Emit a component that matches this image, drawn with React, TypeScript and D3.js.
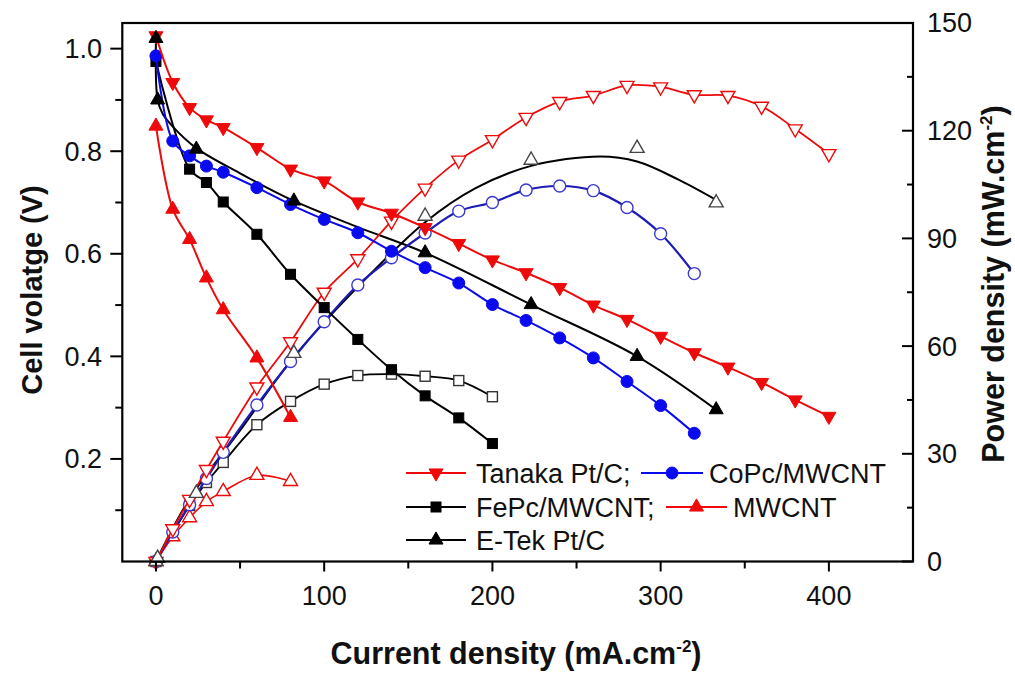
import React from 'react';
import * as d3 from 'd3';

// ---------------- data ----------------
const tanakaI = [0, 10, 20, 30, 40, 60, 80, 100, 120, 140, 160, 180, 200, 220, 240, 260, 280, 300, 320, 340, 360, 380, 400];
const tanakaV = [1.025, 0.934, 0.885, 0.861, 0.846, 0.807, 0.765, 0.742, 0.701, 0.679, 0.651, 0.620, 0.588, 0.563, 0.534, 0.500, 0.472, 0.439, 0.407, 0.379, 0.349, 0.315, 0.283];
const tanakaP = [0, 9.1, 17.3, 25.6, 33.5, 48.6, 61.2, 75.0, 84.3, 94.8, 104.0, 111.8, 117.5, 123.7, 128.1, 129.8, 132.6, 132.2, 130.0, 129.8, 126.8, 120.5, 113.6];

const mwcntI = [0, 10, 20, 30, 40, 60, 80];
const mwcntV = [0.849, 0.687, 0.628, 0.553, 0.491, 0.397, 0.281];
const mwcntP = [0, 6.9, 12.2, 16.7, 19.5, 24.0, 22.3];

const fepcI = [0, 20, 30, 40, 60, 80, 100, 120, 140, 160, 180, 200];
const fepcV = [0.975, 0.765, 0.739, 0.701, 0.638, 0.560, 0.495, 0.433, 0.374, 0.323, 0.280, 0.230];
const fepcP = [0, 15.6, 22.0, 27.6, 38.1, 44.6, 49.4, 51.8, 52.2, 51.6, 50.4, 45.9];

const copcI = [0, 10, 20, 30, 40, 60, 80, 100, 120, 140, 160, 180, 200, 220, 240, 260, 280, 300, 320];
const copcV = [0.986, 0.820, 0.791, 0.771, 0.759, 0.729, 0.696, 0.667, 0.641, 0.605, 0.573, 0.543, 0.501, 0.470, 0.436, 0.397, 0.351, 0.304, 0.250];
const copcP = [0, 8.2, 15.8, 23.1, 30.4, 43.6, 55.7, 66.8, 77.0, 84.6, 91.5, 97.6, 100.0, 103.5, 104.6, 103.3, 98.6, 91.3, 80.2];

const etekI = [0, 1, 24, 82, 160, 223, 286, 333];
const etekV = [1.02, 0.90, 0.804, 0.703, 0.602, 0.501, 0.400, 0.296];
const etekP = [0, 0.9, 19.0, 58.0, 96.2, 111.8, 115.1, 99.9];

// E-Tek fitted curves
const etekFitVI = [0, 1, 4, 10, 24, 50, 82, 120, 160, 223, 286, 333];
const etekFitV = [1.02, 0.90, 0.873, 0.848, 0.806, 0.757, 0.703, 0.652, 0.602, 0.501, 0.400, 0.296];
const etekFitPI = [0, 20, 50, 82, 120, 160, 190, 223, 264, 286, 310, 333];
const etekFitP = [0, 17.5, 36.5, 57, 76.5, 94.5, 104, 110.2, 112.8, 111.4, 106.5, 100.7];

// ticks
const xTicks = [0, 100, 200, 300, 400];
const xMinor = [50, 150, 250, 350];
const vTicks = [0.2, 0.4, 0.6, 0.8, 1.0];
const vMinor = [0.1, 0.3, 0.5, 0.7, 0.9];
const pTicks = [0, 30, 60, 90, 120, 150];
const pMinor = [15, 45, 75, 105, 135];

// ---------------- layout ----------------
const W = 1015, H = 673;
const L = 122.3, R = 913, T = 23, B = 561.5;
const FONT = '"Liberation Sans", Arial, Helvetica, sans-serif';

const RED = '#ee0a0a';
const BLUE = '#0a0af0';
const BLUE_P = '#1c1cb4';
const BLACK = '#000000';

const x = d3.scaleLinear().domain([-20, 450]).range([L, R]);
const yV = d3.scaleLinear().domain([0, 1.05]).range([B, T]);
const yP = d3.scaleLinear().domain([0, 150]).range([B, T]);

type Shape = 'triUp' | 'triDown' | 'square' | 'circle';

function Marker({ cx, cy, shape, color, open, size }: { cx: number; cy: number; shape: Shape; color: string; open?: boolean; size?: number }) {
  const fill = open ? '#ffffff' : color;
  const sw = open ? 1.4 : 1;
  if (shape === 'circle') {
    const r = (size ?? 12) / 2;
    return <circle cx={cx} cy={cy} r={r} fill={fill} stroke={color} strokeWidth={sw} />;
  }
  if (shape === 'square') {
    const s = size ?? 10;
    return <rect x={cx - s / 2} y={cy - s / 2} width={s} height={s} fill={fill} stroke={color} strokeWidth={sw} />;
  }
  const w = size ?? 14;
  const h = w * 0.87;
  const p = shape === 'triUp'
    ? `M${cx},${cy - (2 * h) / 3}L${cx + w / 2},${cy + h / 3}L${cx - w / 2},${cy + h / 3}Z`
    : `M${cx},${cy + (2 * h) / 3}L${cx + w / 2},${cy - h / 3}L${cx - w / 2},${cy - h / 3}Z`;
  return <path d={p} fill={fill} stroke={color} strokeWidth={sw} strokeLinejoin="miter" />;
}

function pairs(xs: number[], ys: number[]): [number, number][] {
  return xs.map((v, i) => [v, ys[i]]);
}

const lineV = d3.line<[number, number]>().x(d => x(d[0])).y(d => yV(d[1])).curve(d3.curveCatmullRom.alpha(0.5));
const lineP = d3.line<[number, number]>().x(d => x(d[0])).y(d => yP(d[1])).curve(d3.curveCatmullRom.alpha(0.5));

type Series = { xs: number[]; ys: number[]; axis: 'V' | 'P'; shape: Shape; color: string; lineColor: string; open: boolean; size: number; lw: number; noLine?: boolean };

const series: Series[] = [
  { xs: fepcI, ys: fepcP, axis: 'P', shape: 'square', color: '#333333', lineColor: BLACK, open: true, size: 10, lw: 1.8 },
  { xs: mwcntI, ys: mwcntP, axis: 'P', shape: 'triUp', color: RED, lineColor: RED, open: true, size: 14, lw: 1.6 },
  { xs: copcI, ys: copcP, axis: 'P', shape: 'circle', color: '#3a3ad0', lineColor: BLUE_P, open: true, size: 12, lw: 2.2 },
  { xs: tanakaI, ys: tanakaP, axis: 'P', shape: 'triDown', color: RED, lineColor: RED, open: true, size: 14, lw: 1.8 },
  { xs: etekI, ys: etekP, axis: 'P', shape: 'triUp', color: '#444444', lineColor: BLACK, open: true, size: 14, lw: 1.8, noLine: true },
  { xs: mwcntI, ys: mwcntV, axis: 'V', shape: 'triUp', color: RED, lineColor: RED, open: false, size: 14, lw: 2 },
  { xs: fepcI, ys: fepcV, axis: 'V', shape: 'square', color: BLACK, lineColor: BLACK, open: false, size: 10, lw: 2 },
  { xs: copcI, ys: copcV, axis: 'V', shape: 'circle', color: BLUE, lineColor: BLUE, open: false, size: 12, lw: 2 },
  { xs: tanakaI, ys: tanakaV, axis: 'V', shape: 'triDown', color: RED, lineColor: RED, open: false, size: 14, lw: 2 },
  { xs: etekI, ys: etekV, axis: 'V', shape: 'triUp', color: BLACK, lineColor: BLACK, open: false, size: 14, lw: 2, noLine: true },
];

type LegendItem = { x1: number; x2: number; tx: number; y: number; shape: Shape; color: string; label: string };
const legendItems: LegendItem[] = [
  { x1: 406, x2: 466, tx: 476, y: 473, shape: 'triDown', color: RED, label: 'Tanaka Pt/C;' },
  { x1: 641, x2: 703, tx: 709, y: 473, shape: 'circle', color: BLUE, label: 'CoPc/MWCNT' },
  { x1: 406, x2: 466, tx: 476, y: 507, shape: 'square', color: BLACK, label: 'FePc/MWCNT;' },
  { x1: 666, x2: 727, tx: 733, y: 507, shape: 'triUp', color: RED, label: 'MWCNT' },
  { x1: 406, x2: 466, tx: 476, y: 540, shape: 'triUp', color: BLACK, label: 'E-Tek Pt/C' },
];

export default function App() {
  const fmtV = d3.format('.1f');
  return (
    <svg width={W} height={H} viewBox={`0 0 ${W} ${H}`} style={{ position: 'absolute', left: 0, top: 0, background: '#fff' }}>
      <rect x={0} y={0} width={W} height={H} fill="#ffffff" />

      {/* E-Tek fitted curves */}
      <path d={lineP(pairs(etekFitPI, etekFitP)) ?? ''} fill="none" stroke={BLACK} strokeWidth={2} />
      <path d={lineV(pairs(etekFitVI, etekFitV)) ?? ''} fill="none" stroke={BLACK} strokeWidth={2} />

      {/* series */}
      {series.map((s, i) => {
        const pts = pairs(s.xs, s.ys);
        const gen = s.axis === 'V' ? lineV : lineP;
        const ys = s.axis === 'V' ? yV : yP;
        return (
          <g key={i}>
            {!s.noLine && <path d={gen(pts) ?? ''} fill="none" stroke={s.lineColor} strokeWidth={s.lw} />}
            {pts.map((d, j) => (
              <Marker key={j} cx={x(d[0])} cy={ys(d[1])} shape={s.shape} color={s.color} open={s.open} size={s.size} />
            ))}
          </g>
        );
      })}

      {/* frame */}
      <rect x={L} y={T} width={R - L} height={B - T} fill="none" stroke="#000" strokeWidth={2.2} />

      {/* bottom axis */}
      {xTicks.map(t => (
        <g key={'xt' + t}>
          <line x1={x(t)} x2={x(t)} y1={B} y2={B + 10} stroke="#000" strokeWidth={2} />
          <text x={x(t)} y={605} textAnchor="middle" fontFamily={FONT} fontSize={27} fill="#111">{t}</text>
        </g>
      ))}
      {xMinor.map(t => (
        <line key={'xm' + t} x1={x(t)} x2={x(t)} y1={B} y2={B + 7} stroke="#000" strokeWidth={2} />
      ))}

      {/* left axis */}
      {vTicks.map(t => (
        <g key={'vt' + t}>
          <line x1={L - 12} x2={L} y1={yV(t)} y2={yV(t)} stroke="#000" strokeWidth={2} />
          <text x={102} y={yV(t)} dy="0.35em" textAnchor="end" fontFamily={FONT} fontSize={27} fill="#111">{fmtV(t)}</text>
        </g>
      ))}
      {vMinor.map(t => (
        <line key={'vm' + t} x1={L - 7} x2={L} y1={yV(t)} y2={yV(t)} stroke="#000" strokeWidth={2} />
      ))}

      {/* right axis (ticks inside) */}
      {pTicks.map(t => (
        <g key={'pt' + t}>
          <line x1={R - 11} x2={R} y1={yP(t)} y2={yP(t)} stroke="#000" strokeWidth={2} />
          <text x={927} y={yP(t)} dy="0.35em" textAnchor="start" fontFamily={FONT} fontSize={27} fill="#111">{t}</text>
        </g>
      ))}
      {pMinor.map(t => (
        <line key={'pm' + t} x1={R - 6} x2={R} y1={yP(t)} y2={yP(t)} stroke="#000" strokeWidth={2} />
      ))}

      {/* axis titles */}
      <text transform="translate(42,290) rotate(-90)" textAnchor="middle" fontFamily={FONT} fontSize={29} fontWeight="bold" fill="#111">Cell volatge (V)</text>
      <text x={516} y={664} textAnchor="middle" fontFamily={FONT} fontSize={30.5} fontWeight="bold" fill="#111">
        Current density (mA.cm<tspan dy={-12} fontSize={17}>-2</tspan><tspan dy={12}>)</tspan>
      </text>
      <text transform="translate(1004,284) rotate(-90)" textAnchor="middle" fontFamily={FONT} fontSize={30.5} fontWeight="bold" fill="#111">
        Power density (mW.cm<tspan dy={-12} fontSize={17}>-2</tspan><tspan dy={12}>)</tspan>
      </text>

      {/* legend */}
      {legendItems.map((it, i) => (
        <g key={'lg' + i}>
          <line x1={it.x1} x2={it.x2} y1={it.y} y2={it.y} stroke={it.color} strokeWidth={2.2} />
          <Marker cx={(it.x1 + it.x2) / 2} cy={it.y} shape={it.shape} color={it.color} size={it.shape === 'square' ? 10 : it.shape === 'circle' ? 12 : 14} />
          <text x={it.tx} y={it.y + 10} fontFamily={FONT} fontSize={27} fill="#111">{it.label}</text>
        </g>
      ))}
    </svg>
  );
}
